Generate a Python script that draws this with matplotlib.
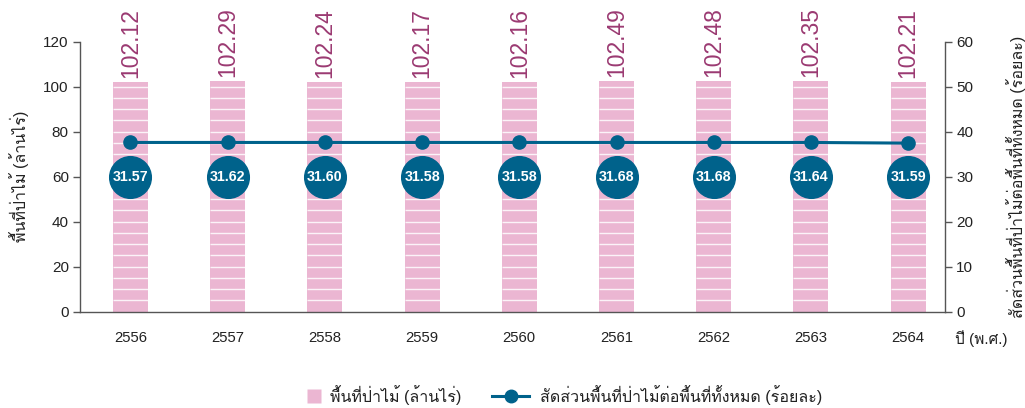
import numpy as np
import matplotlib
matplotlib.use("Agg")
import matplotlib.pyplot as plt
from matplotlib import font_manager
from matplotlib.ft2font import FT2Font
from matplotlib.lines import Line2D

# ---------------- data ----------------
years = ["2556", "2557", "2558", "2559", "2560", "2561", "2562", "2563", "2564"]
forest_area = [102.12, 102.29, 102.24, 102.17, 102.16, 102.49, 102.48, 102.35, 102.21]
ratio_line = [37.6, 37.6, 37.6, 37.6, 37.6, 37.6, 37.6, 37.6, 37.45]
ratio_labels = [31.57, 31.62, 31.60, 31.58, 31.58, 31.68, 31.68, 31.64, 31.59]

left_label = "พื้นที่ป่าไม้ (ล้านไร่)"
right_label = "สัดส่วนพื้นที่ป่าไม้ต่อพื้นที่ทั้งหมด (ร้อยละ)"
x_label = "ปี (พ.ศ.)"
legend_bar = "พื้นที่ป่าไม้ (ล้านไร่)"
legend_line = "สัดส่วนพื้นที่ป่าไม้ต่อพื้นที่ทั้งหมด (ร้อยละ)"

# ---------------- fonts ----------------
def find_thai_fonts():
    names = []
    for f in font_manager.fontManager.ttflist:
        try:
            cmap = FT2Font(f.fname).get_charmap()
        except Exception:
            continue
        if ord("ป") in cmap and f.name not in names:
            names.append(f.name)
    return names

thai = find_thai_fonts()
families = ["Liberation Sans"] + thai + ["DejaVu Sans"]
plt.rcParams["font.family"] = families

PINK = "#ebb6d2"
BLUE = "#00628b"
PURPLE = "#9b3a72"
AXC = "#555555"
TXT = "#222222"

fig = plt.figure(figsize=(10.25, 4.08), dpi=100)
ax = fig.add_axes([0.078, 0.236, 0.844, 0.662])
ax2 = ax.twinx()

x = np.arange(len(years))
bw = 0.36
ax.bar(x, forest_area, width=bw, color=PINK, zorder=2)
# white stripes across bars
for xi, h in zip(x, forest_area):
    ys = np.arange(5, h, 5.0)
    ax.hlines(ys, xi - bw / 2, xi + bw / 2, color="white", lw=1.0, alpha=0.85, zorder=3)

for xi, h in zip(x, forest_area):
    ax.text(xi, h + 1.8, f"{h:.2f}", rotation=90, ha="center", va="bottom",
            fontsize=16.5, color=PURPLE, family=families)

ax.set_xlim(-0.52, 8.38)
ax.set_ylim(0, 120)
ax.set_yticks(np.arange(0, 121, 20))
ax2.set_ylim(0, 60)
ax2.set_yticks(np.arange(0, 61, 10))

ax2.plot(x, ratio_line, color=BLUE, lw=2.2, marker="o", markersize=9.5, zorder=4)
for xi, v in zip(x, ratio_labels):
    ax2.plot(xi, 30, marker="o", markersize=30, color=BLUE, zorder=5)
    ax2.text(xi, 30, f"{v:.2f}", ha="center", va="center", fontsize=10.3,
             fontweight="bold", color="white", zorder=6, family=families)

for a in (ax, ax2):
    a.spines["top"].set_visible(False)
    for s in ("left", "right", "bottom"):
        a.spines[s].set_color(AXC)
        a.spines[s].set_linewidth(1.0)
ax.spines["right"].set_visible(False)
ax2.spines["left"].set_visible(False)
ax2.spines["bottom"].set_visible(False)

ax.set_xticks(x)
ax.set_xticklabels(years)
ax.tick_params(axis="x", length=0, pad=14, labelsize=10.7, labelcolor=TXT)
ax.tick_params(axis="y", length=5, width=1, color=AXC, labelsize=11, labelcolor=TXT, pad=3)
ax2.tick_params(axis="y", length=5, width=1, color=AXC, labelsize=11, labelcolor=TXT, pad=3)

ax.set_ylabel(left_label, fontsize=11.5, color=TXT, labelpad=10)
ax2.set_ylabel(right_label, fontsize=11.5, color=TXT, rotation=90, labelpad=24)
fig.text(0.932, (408 - 339) / 408, x_label, ha="left", va="center", fontsize=11, color=TXT)

h_bar = Line2D([], [], linestyle="none", marker="s", markersize=10,
               markerfacecolor=PINK, markeredgecolor="none")
h_line = Line2D([], [], color=BLUE, lw=2.2, marker="o", markersize=9)
leg1 = fig.legend([h_bar], [legend_bar], loc="center left",
                  bbox_to_anchor=(292 / 1025, 0.032), frameon=False, fontsize=11.5,
                  handlelength=0.9, handletextpad=0.6, labelcolor=TXT)
leg2 = fig.legend([h_line], [legend_line], loc="center left",
                  bbox_to_anchor=(478 / 1025, 0.032), frameon=False, fontsize=11.5,
                  handlelength=2.3, handletextpad=0.7, labelcolor=TXT)

fig.savefig("out.png", dpi=100)
